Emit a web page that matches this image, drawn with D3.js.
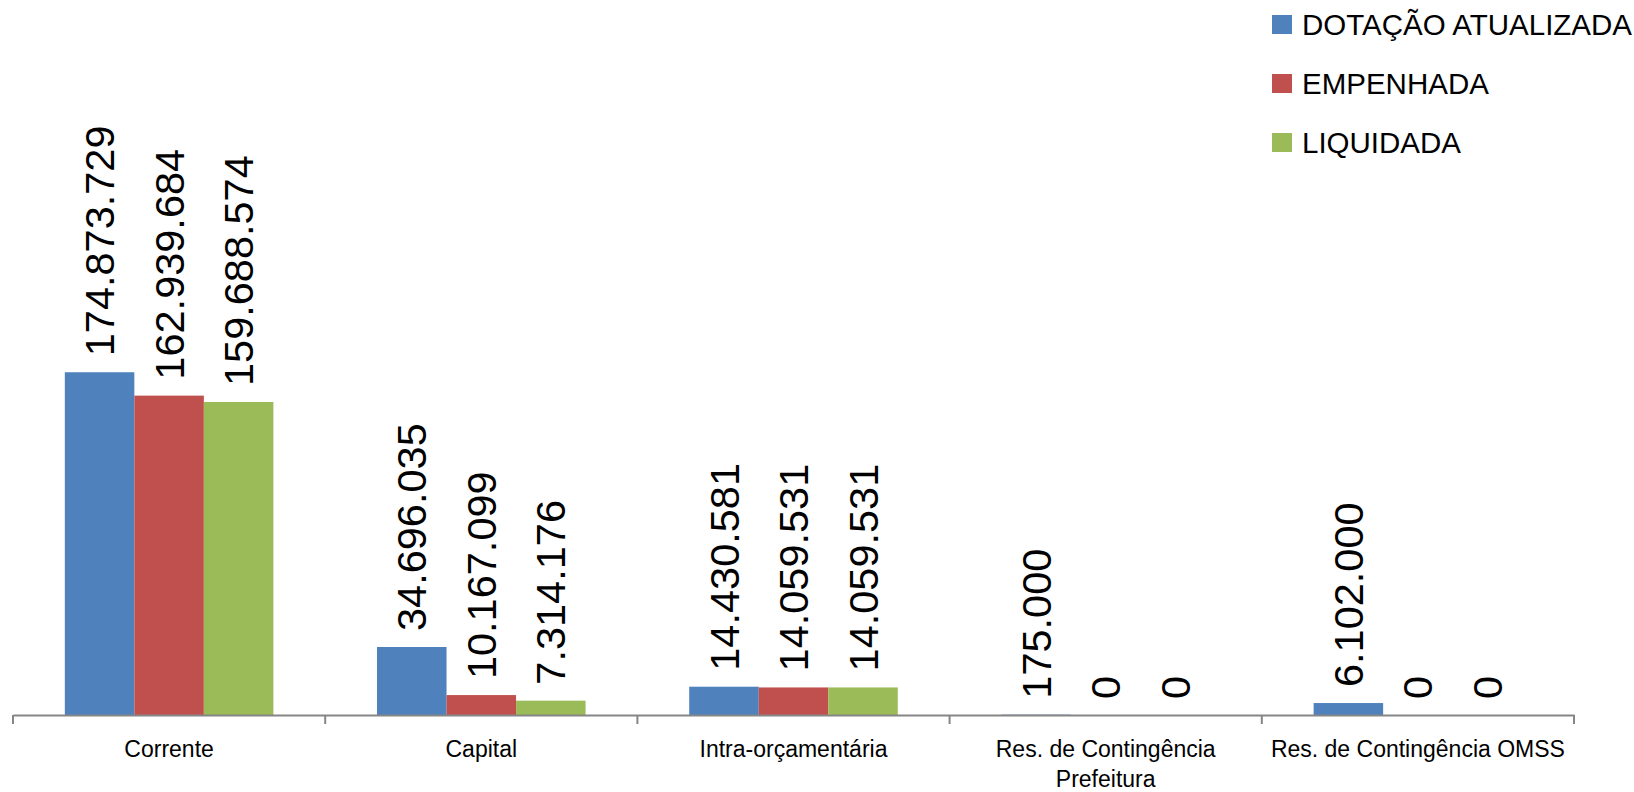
<!DOCTYPE html>
<html>
<head>
<meta charset="utf-8">
<script src="https://cdn.jsdelivr.net/npm/d3@7"></script>
<style>
  body { margin: 0; background: #fff; }
  text { font-family: "Liberation Sans", Arial, sans-serif; fill: #000; }
</style>
</head>
<body>
<div id="graph"></div>
<script>
// categories and series (values in R$)
var categories = ["Corrente", "Capital", "Intra-orçamentária", "Res. de Contingência Prefeitura", "Res. de Contingência OMSS"];
var seriesNames = ["DOTAÇÃO ATUALIZADA", "EMPENHADA", "LIQUIDADA"];
var dotacao = [174873729, 34696035, 14430581, 175000, 6102000];
var empenhada = [162939684, 10167099, 14059531, 0, 0];
var liquidada = [159688574, 7314176, 14059531, 0, 0];
var colors = ["#4F81BD", "#C0504D", "#9BBB59"];

var w = 1634, h = 792;
var x0 = 13, x1 = 1574, yBase = 715, yTop = 29;

var values = [dotacao, empenhada, liquidada];

var svg = d3.select("#graph").append("svg")
  .attr("width", w)
  .attr("height", h);

var x = d3.scaleBand().domain(categories).range([x0, x1]).paddingInner(0).paddingOuter(0);
var xs = d3.scaleBand().domain(seriesNames).range([0, x.bandwidth() * 0.668]);
var groupOff = x.bandwidth() * 0.332 / 2;
var y = d3.scaleLinear().domain([0, 350000000]).range([yBase, yTop]);

var ptBR = d3.formatLocale({ decimal: ",", thousands: ".", grouping: [3], currency: ["R$", ""] });
var fmt = ptBR.format(",d");

// bars
seriesNames.forEach(function (s, si) {
  var g = svg.append("g");
  g.selectAll("rect")
    .data(values[si])
    .enter()
    .append("rect")
      .attr("x", function (d, i) { return x(categories[i]) + groupOff + xs(s); })
      .attr("y", function (d) { return y(d); })
      .attr("width", xs.bandwidth())
      .attr("height", function (d) { return yBase - y(d); })
      .attr("fill", colors[si]);

  // value labels, rotated
  g.selectAll("text")
    .data(values[si])
    .enter()
    .append("text")
      .text(function (d) { return fmt(d); })
      .attr("transform", function (d, i) {
        var cx = x(categories[i]) + groupOff + xs(s) + xs.bandwidth() / 2;
        return "translate(" + cx + "," + (y(d) - 16) + ") rotate(-90)";
      })
      .attr("dy", "0.35em")
      .attr("text-anchor", "start")
      .attr("font-size", 41.5);
});

// x axis
var axis = d3.axisBottom(x).tickSize(0).tickPadding(0);
var ax = svg.append("g")
  .attr("transform", "translate(0," + yBase + ")")
  .call(axis);
ax.select(".domain").attr("stroke", "#868686").attr("stroke-width", 2);
ax.selectAll(".tick text").remove();

// tick marks at band boundaries
var bounds = categories.map(function (c) { return x(c); }).concat([x1]);
ax.selectAll("line.sep")
  .data(bounds)
  .enter()
  .append("line")
    .attr("class", "sep")
    .attr("x1", function (d) { return d; })
    .attr("x2", function (d) { return d; })
    .attr("y1", 0)
    .attr("y2", 9)
    .attr("stroke", "#868686")
    .attr("stroke-width", 2);

// category labels with wrapping
var catText = svg.append("g").selectAll("text")
  .data(categories)
  .enter()
  .append("text")
    .attr("x", function (d) { return x(d) + x.bandwidth() / 2; })
    .attr("y", 757)
    .attr("text-anchor", "middle")
    .attr("font-size", 23)
    .text(function (d) { return d; });

catText.each(function (d) {
  var t = d3.select(this);
  if (this.getComputedTextLength() <= x.bandwidth() - 6) return;
  var words = d.split(" "), line = [], lines = [];
  t.text(null);
  var probe = t.append("tspan");
  words.forEach(function (wd) {
    line.push(wd);
    probe.text(line.join(" "));
    if (probe.node().getComputedTextLength() > x.bandwidth() - 6 && line.length > 1) {
      line.pop();
      lines.push(line.join(" "));
      line = [wd];
    }
  });
  lines.push(line.join(" "));
  probe.remove();
  lines.forEach(function (l, li) {
    t.append("tspan")
      .attr("x", x(d) + x.bandwidth() / 2)
      .attr("dy", li === 0 ? 0 : 30)
      .text(l);
  });
});

// legend
var legend = svg.append("g").selectAll("g")
  .data(seriesNames)
  .enter()
  .append("g")
    .attr("transform", function (d, i) { return "translate(1272," + (15 + i * 59) + ")"; });
legend.append("rect")
  .attr("width", 20)
  .attr("height", 19)
  .attr("fill", function (d, i) { return colors[i]; });
legend.append("text")
  .attr("x", 30)
  .attr("y", 20)
  .attr("font-size", 29.5)
  .text(function (d) { return d; });
</script>
</body>
</html>
